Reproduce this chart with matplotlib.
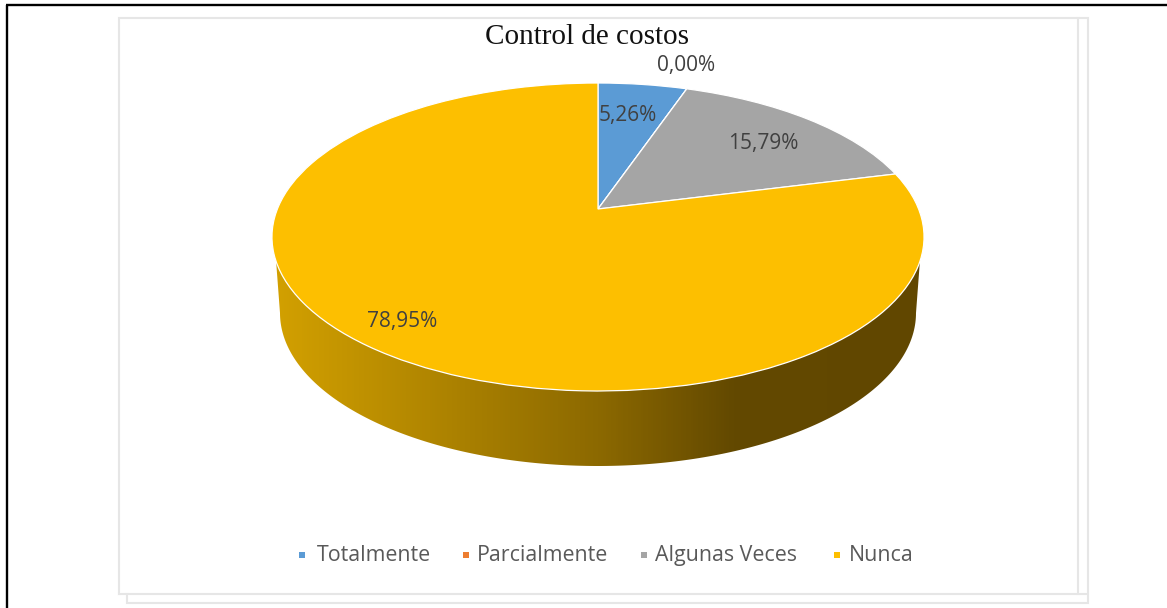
import numpy as np
import matplotlib
matplotlib.use("Agg")
import matplotlib.pyplot as plt
from matplotlib.colors import LinearSegmentedColormap
from matplotlib.patches import Polygon
from matplotlib.transforms import Transform

title = "Control de costos"
categories = ["Totalmente", "Parcialmente", "Algunas Veces", "Nunca"]
values = [5.26, 0.00, 15.79, 78.95]
colors = ["#5B9BD5", "#ED7D31", "#A5A5A5", "#FDBF00"]

label_xy = [(628, 115), (686, 65), (763, 143), (402, 322)]
legend_marker_x = [302, 466, 644, 837]
legend_text_x = [317, 477, 655, 849]

W, H = 1167, 608
APEX = (598, 209)
A, B, K = 320.6, 148.9, 0.1818      # perspective of the top face


class Perspective(Transform):
    input_dims = output_dims = 2

    def transform_non_affine(self, xy):
        xy = np.asarray(xy, float)
        d = 1 + K * xy[:, 1]
        return np.column_stack((APEX[0] + A * xy[:, 0] / d, APEX[1] - B * xy[:, 1] / d))


fig = plt.figure(figsize=(W / 100, H / 100), dpi=100, facecolor="white")
ax = fig.add_axes([0, 0, 1, 1])

wedges, _ = ax.pie(values, colors=colors, startangle=90, counterclock=False, frame=True,
                   wedgeprops=dict(edgecolor="white", linewidth=0.9))
ax.set_aspect("auto")
persp = Perspective()
for w in wedges:
    w.set_transform(persp + ax.transData)
    w.set_zorder(3)

# side wall of the disc
t = np.linspace(0, np.pi, 200)
lower_x = 598 - 318 * np.cos(t)
lower_y = 313 + 153 * np.sin(t)
wall_pts = np.column_stack((np.r_[276, lower_x, 920], np.r_[260, lower_y, 260]))
cmap = LinearSegmentedColormap.from_list(
    "wall", [(0.0, "#D2A000"), (0.50, "#8C6900"), (0.71, "#634900"), (1.0, "#614700")])
img = ax.imshow(np.linspace(0, 1, 644)[None, :], cmap=cmap, extent=(276, 920, 470, 255),
                aspect="auto", zorder=2, interpolation="bilinear")
wall = Polygon(wall_pts, closed=True, transform=ax.transData, facecolor="none", edgecolor="none")
ax.add_patch(wall)
img.set_clip_path(wall)

ax.set_xlim(0, W)
ax.set_ylim(H, 0)
ax.axis("off")

# page rules and chart frame
frame = "#E6E6E6"
ax.plot([7, 7], [H, 5], color="black", lw=1.7, solid_capstyle="butt", zorder=1)
ax.plot([6, W], [5, 5], color="black", lw=1.7, solid_capstyle="butt", zorder=1)
ax.plot([118.5, 118.5, 1088, 1088, 126.5, 126.5], [594, 18, 18, 603, 603, 594],
        color=frame, lw=1.5, solid_joinstyle="miter", zorder=1)
ax.plot([118.5, 1087], [594, 594], color=frame, lw=1.5, zorder=1)
ax.plot([1078, 1078], [18, 594], color=frame, lw=1.5, zorder=1)

ax.text(587, 36.5, title, family="Liberation Serif", fontsize=21, color="#111111",
        ha="center", va="center", zorder=5)

for v, (x, y) in zip(values, label_xy):
    ax.text(x, y, f"{v:.2f}%".replace(".", ","), family="Open Sans", fontsize=15,
            color="#404040", ha="center", va="center", zorder=5)

for name, c, mx, tx in zip(categories, colors, legend_marker_x, legend_text_x):
    ax.plot([mx], [555], marker="s", ms=4.2, color=c, mew=0, ls="none", zorder=5)
    ax.text(tx, 555.5, name, family="Open Sans", fontsize=15.4, color="#595959",
            ha="left", va="center", zorder=5)

fig.savefig("out.png", dpi=100, facecolor="white")
